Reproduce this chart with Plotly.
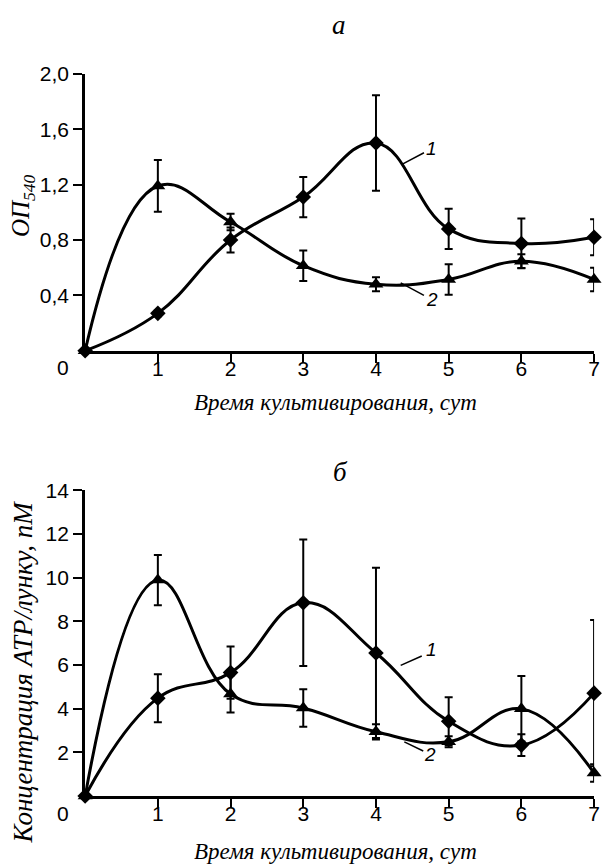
import plotly.graph_objects as go

days = [0, 1, 2, 3, 4, 5, 6, 7]

# Panel a: OD540
od_s1 = [0, 0.27, 0.80, 1.11, 1.50, 0.88, 0.775, 0.82]
od_s1_err = [0, 0.02, 0.09, 0.145, 0.345, 0.145, 0.18, 0.13]
od_s2 = [0, 1.19, 0.93, 0.614, 0.48, 0.515, 0.647, 0.515]
od_s2_err = [0, 0.187, 0.06, 0.11, 0.05, 0.11, 0.05, 0.085]

# Panel b: ATP concentration
atp_s1 = [0, 4.48, 5.65, 8.85, 6.55, 3.42, 2.33, 4.71]
atp_s1_err = [0, 1.1, 1.2, 2.9, 3.9, 1.1, 0.5, 3.35]
atp_s2 = [0, 9.89, 4.67, 4.03, 2.94, 2.48, 3.99, 1.05]
atp_s2_err = [0, 1.15, 0.85, 0.86, 0.35, 0.25, 1.5, 0.4]

x_ticks = [1, 2, 3, 4, 5, 6, 7]
od_ticks = [0.4, 0.8, 1.2, 1.6, 2.0]
od_ticktext = ["0,4", "0,8", "1,2", "1,6", "2,0"]
atp_ticks = [2, 4, 6, 8, 10, 12, 14]
atp_ticktext = ["2", "4", "6", "8", "10", "12", "14"]

TICKFONT = dict(family="Liberation Sans Narrow, Arial Narrow, Liberation Sans, sans-serif", size=21, color="black")
SERIF = "Liberation Serif, Times New Roman, serif"
LW = 3

fig = go.Figure()

def add_series(x, y, err, symbol, size, xa, ya):
    fig.add_trace(go.Scatter(
        x=x, y=y, mode="lines+markers", xaxis=xa, yaxis=ya,
        line=dict(color="black", width=LW, shape="spline", smoothing=1.2),
        marker=dict(symbol=symbol, size=size, color="black"),
        error_y=dict(type="data", array=err, visible=True, color="black", thickness=2, width=4),
        cliponaxis=False, showlegend=False))

add_series(days, od_s1, od_s1_err, "diamond", 12, "x", "y")
add_series(days, od_s2, od_s2_err, "triangle-up", 13, "x", "y")
add_series(days, atp_s1, atp_s1_err, "diamond", 12, "x2", "y2")
add_series(days, atp_s2, atp_s2_err, "triangle-up", 13, "x2", "y2")

xdom = [86 / 608, 600 / 608]
axis_common = dict(showline=True, linecolor="black", linewidth=LW, ticks="outside",
                   tickcolor="black", tickwidth=2, ticklen=9, showgrid=False,
                   zeroline=False, tickfont=TICKFONT)

fig.update_layout(
    width=608, height=866, margin=dict(l=0, r=0, t=0, b=0),
    plot_bgcolor="white", paper_bgcolor="white",
    xaxis=dict(domain=xdom, range=[0, 7], tickvals=x_ticks, anchor="y",
               ticklabelstandoff=-12, **axis_common),
    yaxis=dict(domain=[1 - 343.5 / 866, 1 - 62.7 / 866], range=[0, 2], tickvals=od_ticks,
               ticktext=od_ticktext, anchor="x", **axis_common),
    xaxis2=dict(domain=xdom, range=[0, 7], tickvals=x_ticks, anchor="y2",
                ticklabelstandoff=-12, **axis_common),
    yaxis2=dict(domain=[1 - 795 / 866, 1 - 485 / 866], range=[0, 14], tickvals=atp_ticks,
                ticktext=atp_ticktext, anchor="x2", **axis_common),
)

def pann(xpx, ypx, text, font, angle=0):
    return dict(x=xpx / 608, y=1 - ypx / 866, xref="paper", yref="paper", text=text,
                showarrow=False, xanchor="center", yanchor="middle", textangle=angle, font=font)

ann = []
# origin zero labels
ann.append(pann(64, 361, "0", TICKFONT))
ann.append(pann(64, 813, "0", TICKFONT))
# panel titles
TITLEFONT = dict(family=SERIF, size=27, color="black")
ann.append(pann(342, 13, "<i>а</i>", TITLEFONT))
ann.append(pann(344, 466, "<i>б</i>", TITLEFONT))
# x titles
XTFONT = dict(family=SERIF, size=23, color="black")
ann.append(pann(339, 396, "<i>Время культивирования, сут</i>", XTFONT))
ann.append(pann(339, 851, "<i>Время культивирования, сут</i>", XTFONT))
# y titles
ann.append(pann(23, 196, "<i>ОП<sub>540</sub></i>", dict(family=SERIF, size=25, color="black"), -90))
ann.append(pann(23, 669, "<i>Концентрация АТР/лунку, nM</i>",
                dict(family=SERIF, size=27, color="black"), -90))
# curve labels
LABFONT = dict(family="Liberation Sans, Arial, sans-serif", size=19, color="black")
ann.append(dict(x=4.77, y=1.46, xref="x", yref="y", text="<i>1</i>", showarrow=False, font=LABFONT))
ann.append(dict(x=4.77, y=0.37, xref="x", yref="y", text="<i>2</i>", showarrow=False, font=LABFONT))
ann.append(dict(x=4.77, y=6.70, xref="x2", yref="y2", text="<i>1</i>", showarrow=False, font=LABFONT))
ann.append(dict(x=4.74, y=1.88, xref="x2", yref="y2", text="<i>2</i>", showarrow=False, font=LABFONT))
fig.update_layout(annotations=ann)

shapes = [
    dict(type="line", xref="x", yref="y", x0=4.37, y0=1.35, x1=4.66, y1=1.43),
    dict(type="line", xref="x", yref="y", x0=4.34, y0=0.49, x1=4.66, y1=0.40),
    dict(type="line", xref="x2", yref="y2", x0=4.34, y0=5.98, x1=4.63, y1=6.41),
    dict(type="line", xref="x2", yref="y2", x0=4.39, y0=2.48, x1=4.65, y1=2.06),
]
for s in shapes:
    s["line"] = dict(color="black", width=1.5)
fig.update_layout(shapes=shapes)

fig.write_html("out.html")
